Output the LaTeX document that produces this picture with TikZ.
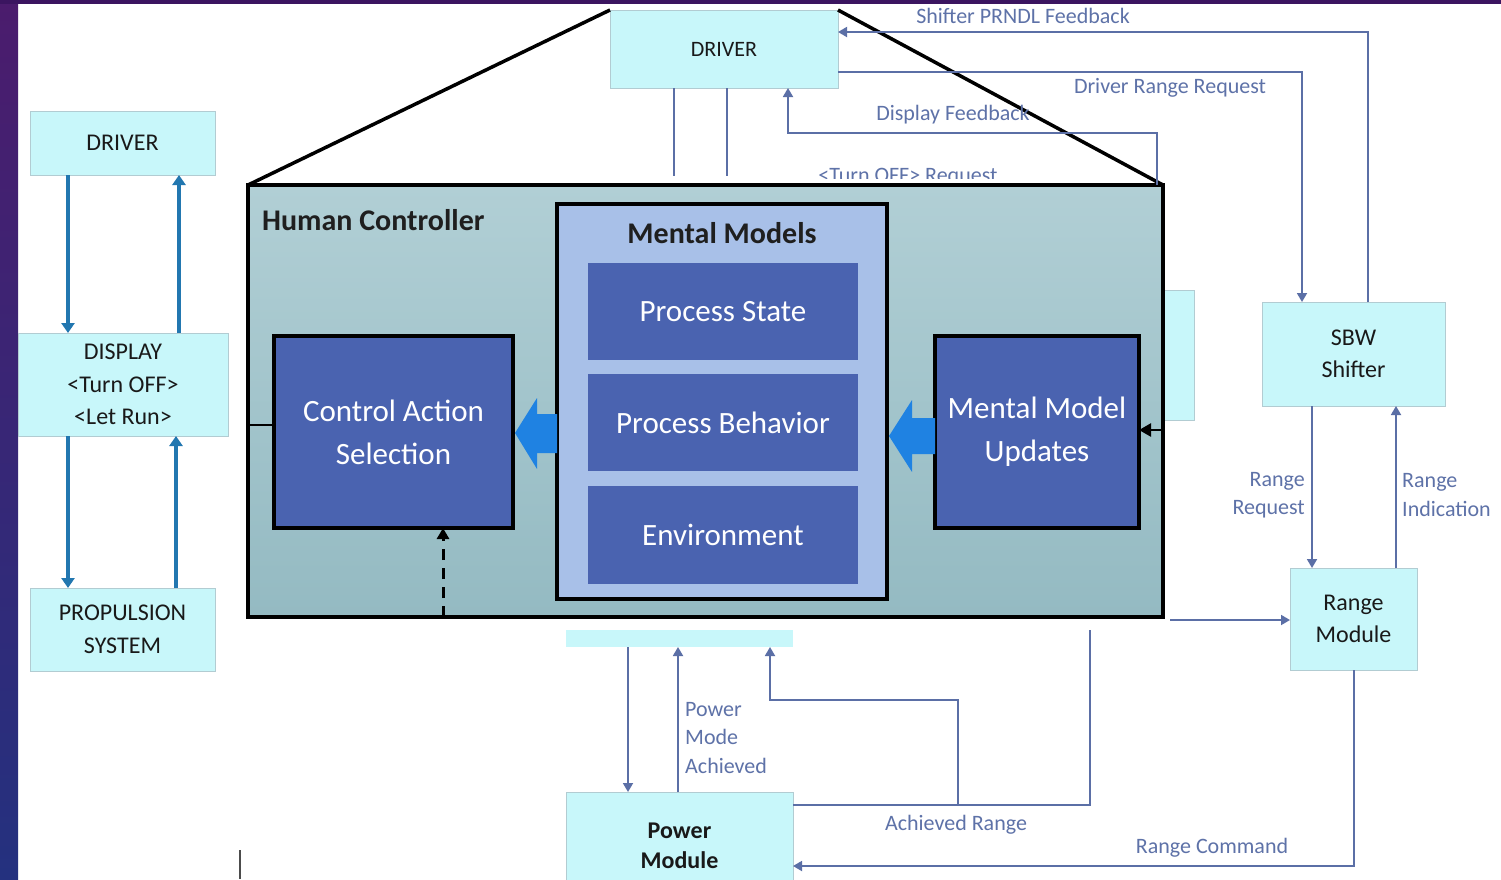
\documentclass[tikz,border=0pt]{standalone}
\usepackage{fontspec}
\setmainfont{Carlito}
\usetikzlibrary{arrows.meta,calc}

\definecolor{boxcyan}{HTML}{C8F7FA}
\definecolor{boxedge}{HTML}{B2CCD2}
\definecolor{link}{HTML}{5B6FA6}
\definecolor{linktext}{HTML}{5E72A8}
\definecolor{leftblue}{HTML}{2277B0}
\definecolor{hctop}{HTML}{B1CFD5}
\definecolor{hcbot}{HTML}{94BAC2}
\definecolor{mmfill}{HTML}{A8C0E8}
\definecolor{navy}{HTML}{4A63B0}
\definecolor{bigarrow}{HTML}{1F82E2}
\definecolor{edgetop}{HTML}{3B1560}
\definecolor{edgeA}{HTML}{4B1C6D}
\definecolor{edgeB}{HTML}{24317F}

\tikzset{
  cyanbox/.style={draw=boxedge, line width=1pt, fill=boxcyan, inner sep=0pt, outer sep=0pt,
    align=center, text=black!90, font=\fontsize{24}{32.5}\selectfont},
  conn/.style={draw=link, line width=1.8pt, -{Triangle[width=10pt,length=9pt]}},
  plainconn/.style={draw=link, line width=1.8pt},
  lbl/.style={text=linktext, font=\fontsize{22}{28.5}\selectfont, inner sep=0pt},
  vbar/.style={draw=leftblue, line width=3.5pt, -{Triangle[width=13pt,length=10pt]}},
  navybox/.style={fill=navy, text=white, inner sep=0pt, outer sep=0pt, align=center,
    font=\fontsize{31}{43}\selectfont},
  heavybox/.style={draw=black, line width=4pt, inner sep=0pt, outer sep=0pt},
  boldtitle/.style={text=black!88, inner sep=0pt, font=\bfseries\fontsize{30}{36}\selectfont},
}

\begin{document}
\begin{tikzpicture}[x=1pt,y=-1pt]
% page and frame edges
\useasboundingbox (0,0) rectangle (1501,879);
\clip (0,0) rectangle (1501,879);
\fill[white] (0,0) rectangle (1501,879);
\shade[top color=edgeA,bottom color=edgeB] (0,0) rectangle (18,879);
\fill[edgetop] (0,0) rectangle (1501,4);

% ---- left control loop ----
\node[cyanbox, minimum width=185pt, minimum height=64pt] (drvL) at (122.5,143) {DRIVER};
\node[cyanbox, minimum width=210pt, minimum height=103pt] (disp) at (123,384.5) {DISPLAY\\<Turn OFF>\\<Let Run>};
\node[cyanbox, minimum width=185pt, minimum height=83pt] (prop) at (122.5,629.5) {PROPULSION\\SYSTEM};

\draw[vbar] (drvL.south -| 68,0) -- (disp.north -| 68,0);
\draw[vbar] (disp.north -| 179,0) -- (drvL.south -| 179,0);
\draw[vbar] (disp.south -| 68,0) -- (prop.north -| 68,0);
\draw[vbar] (prop.north -| 176,0) -- (disp.south -| 176,0);

% ---- blocks partly covered by the controller ----
\node[cyanbox, minimum width=90pt, minimum height=130pt] (hidR) at (1149,355) {};
\node[cyanbox, draw=none, minimum width=227pt, minimum height=17pt] (hidB) at (679.5,638.5) {};

% ---- driver at the top ----
\node[cyanbox, minimum width=228pt, minimum height=78pt, font=\fontsize{22}{26}\selectfont] (drvT) at (724,49) {DRIVER};

% ---- human controller ----
\node[heavybox, top color=hctop, bottom color=hcbot, minimum width=915pt, minimum height=432pt] (hc) at (705.5,401) {};
\node[boldtitle, anchor=west] (hclabel) at (262,220) {Human Controller};

\node[heavybox, fill=mmfill, minimum width=330pt, minimum height=395pt] (mm) at (722,401.5) {};
\node[boldtitle] (mmlabel) at (722,233) {Mental Models};
\node[navybox, minimum width=270pt, minimum height=97pt] (ps) at (723,311.5) {Process State};
\node[navybox, minimum width=270pt, minimum height=97pt] (pb) at (723,422.5) {Process Behavior};
\node[navybox, minimum width=270pt, minimum height=98pt] (env) at (723,535) {Environment};

\node[navybox, draw=black, line width=3.5pt, minimum width=239pt, minimum height=192pt] (cas) at (393.5,432) {Control Action\\Selection};
\node[navybox, draw=black, line width=3.5pt, minimum width=204pt, minimum height=192pt] (mmu) at (1037,432) {Mental Model\\Updates};

% wide arrows between the inner blocks
\fill[bigarrow] (557,414) -- (537,414) -- (537,398) -- (515,433) -- (537,469) -- (537,453) -- (557,453) -- cycle;
\fill[bigarrow] (935,418) -- (912,418) -- (912,400) -- (889,436) -- (912,472) -- (912,454) -- (935,454) -- cycle;

\draw[black, line width=2.5pt, -{Triangle[width=13pt,length=12pt]}] (hc.east |- 0,430) -- (mmu.east |- 0,430);
\draw[black, line width=3pt, dash pattern=on 11pt off 8pt, -{Triangle[width=12pt,length=11pt]}] (hc.south -| 443,0) -- (cas.south -| 443,0);
\draw[black, line width=2.5pt] (hc.west |- 0,425) -- (cas.west |- 0,425);

% zoom lines from the driver block
\draw[black, line width=3.5pt] (hc.north west) -- (drvT.north west);
\draw[black, line width=3.5pt] (drvT.north east) -- (hc.north east);

% ---- right-hand blocks ----
\node[cyanbox, minimum width=183pt, minimum height=104pt] (sbw) at (1353.5,354) {SBW\\Shifter};
\node[cyanbox, minimum width=127pt, minimum height=102pt] (rm) at (1353.5,619) {Range\\Module};
\node[cyanbox, minimum width=227pt, minimum height=108pt, font=\bfseries\fontsize{24}{30}\selectfont] (pm) at (679.5,846) {Power\\Module};

% ---- signal lines ----
\draw[plainconn] (drvT.south -| 674,0) -- (674,176);
\draw[plainconn] (drvT.south -| 727,0) -- (727,176);
\draw[conn] (sbw.north -| 1368,0) -- (1368,32) -- (drvT.east |- 0,32);
\draw[conn] (drvT.east |- 0,72) -- (1302,72) -- (sbw.north -| 1302,0);
\draw[conn] (hc.north -| 1157,0) -- (1157,133) -- (788,133) -- (drvT.south -| 788,0);
\draw[conn] (sbw.south -| 1312,0) -- (rm.north -| 1312,0);
\draw[conn] (rm.north -| 1396,0) -- (sbw.south -| 1396,0);
\draw[conn] ($(hc.south east)+(7,3)$) -- (rm.west |- 0,620);
\draw[conn] (rm.south -| 1354,0) -- (1354,866) -- (pm.east |- 0,866);
\draw[plainconn] (pm.east |- 0,805) -- (1090,805) -- (1090,630);
\draw[conn] (958,805) -- (958,700) -- (770,700) -- (hidB.south -| 770,0);
\draw[conn] (pm.north -| 678,0) -- (hidB.south -| 678,0);
\draw[conn] (hidB.south -| 628,0) -- (pm.north -| 628,0);

% ---- signal labels ----
\node[lbl] (lprndl) at (1023,16) {Shifter PRNDL Feedback};
\node[lbl] (ldrr) at (1170,88) {Driver Range Request};
\node[lbl] (ldisp) at (953,115) {Display Feedback};
\begin{scope}
  \clip (780,150) rectangle (1040,178);
  \node[lbl, anchor=base] (lturn) at (908,182) {<Turn OFF> Request};
\end{scope}
\node[lbl, anchor=east, align=right] (lrreq) at (1305,495) {Range\\Request};
\node[lbl, anchor=west, align=left] (lrind) at (1402,495) {Range\\Indication};
\node[lbl, anchor=west, align=left] (lpma) at (685,738) {Power\\Mode\\Achieved};
\node[lbl] (lach) at (956,825) {Achieved Range};
\node[lbl] (lcmd) at (1212,848) {Range Command};

% stray rule at the lower left
\draw[black!70, line width=1.5pt] (240,850) -- (240,879);
\end{tikzpicture}
\end{document}
